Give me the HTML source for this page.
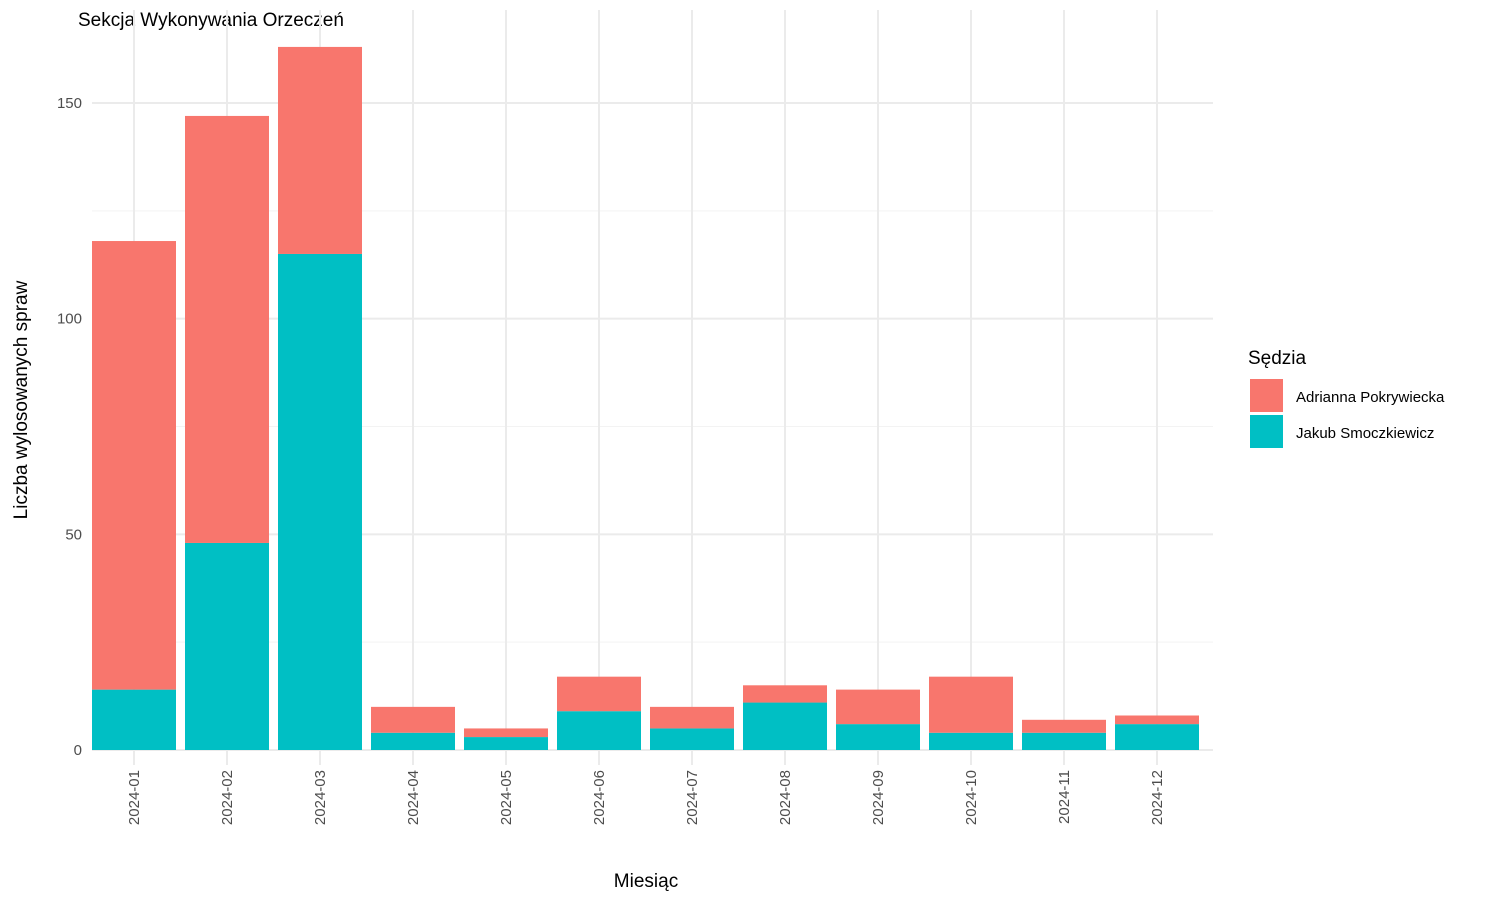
<!DOCTYPE html>
<html><head><meta charset="utf-8"><style>
body{margin:0;background:#fff;font-family:"Liberation Sans","DejaVu Sans",sans-serif}
</style></head><body>
<svg id="chart" width="1500" height="900" xmlns="http://www.w3.org/2000/svg" font-family="Liberation Sans, DejaVu Sans, sans-serif">
<text x="78" y="26" font-size="19" fill="#000">Sekcja Wykonywania Orzeczeń</text>
<g id="grid"></g><g id="bars"></g><g id="xlabels"></g><g id="ylabels"></g>
<text x="646" y="887" font-size="19" text-anchor="middle" fill="#000">Miesiąc</text>
<text transform="translate(27,400) rotate(-90)" font-size="19" text-anchor="middle" fill="#000">Liczba wylosowanych spraw</text>
<g>
<text x="1248" y="364" font-size="19" fill="#000">Sędzia</text>
<rect x="1250" y="379" width="33" height="33" fill="#F8766D"/>
<text x="1296" y="402" font-size="15" fill="#000">Adrianna Pokrywiecka</text>
<rect x="1250" y="415" width="33" height="33" fill="#00BFC4"/>
<text x="1296" y="438" font-size="15" fill="#000">Jakub Smoczkiewicz</text>
</g>
</svg>
<script>
const categories=["2024-01","2024-02","2024-03","2024-04","2024-05","2024-06","2024-07","2024-08","2024-09","2024-10","2024-11","2024-12"];
const jakubValues=[14,48,115,4,3,9,5,11,6,4,4,6];
const adriannaValues=[104,99,48,6,2,8,5,4,8,13,3,2];
const yTicks=[0,50,100,150];
const NS="http://www.w3.org/2000/svg";
const y=v=>750-v*(647/150);
const x=i=>134+i*93;
const bw=84;
function mk(tag,attrs,parent){const e=document.createElementNS(NS,tag);for(const k in attrs)e.setAttribute(k,attrs[k]);document.getElementById(parent).appendChild(e);return e;}
[25,75,125].forEach(v=>{const l=mk('line',{x1:92,x2:1213,y1:y(v),y2:y(v),stroke:'#f3f3f3','stroke-width':1},'grid');

});
yTicks.forEach(v=>{const l=mk('line',{x1:92,x2:1213,y1:y(v),y2:y(v),stroke:'#ebebeb','stroke-width':2},'grid');


const t=mk('text',{x:82,y:y(v)+5,'font-size':15,fill:'#4d4d4d','text-anchor':'end'},'ylabels');t.textContent=v;

});
categories.forEach((c,i)=>{
const l=mk('line',{x1:x(i),x2:x(i),y1:10,y2:765,stroke:'#ebebeb','stroke-width':2},'grid');


const j=jakubValues[i],a=adriannaValues[i];
const r1=mk('rect',{x:x(i)-bw/2,y:y(j),width:bw,height:y(0)-y(j),fill:'#00BFC4'},'bars');


const r2=mk('rect',{x:x(i)-bw/2,y:y(j+a),width:bw,height:y(j)-y(j+a),fill:'#F8766D'},'bars');


const t=mk('text',{transform:`translate(${x(i)+5},770) rotate(-90)`,'font-size':15,fill:'#4d4d4d','text-anchor':'end'},'xlabels');t.textContent=c;


});
</script>
</body></html>
